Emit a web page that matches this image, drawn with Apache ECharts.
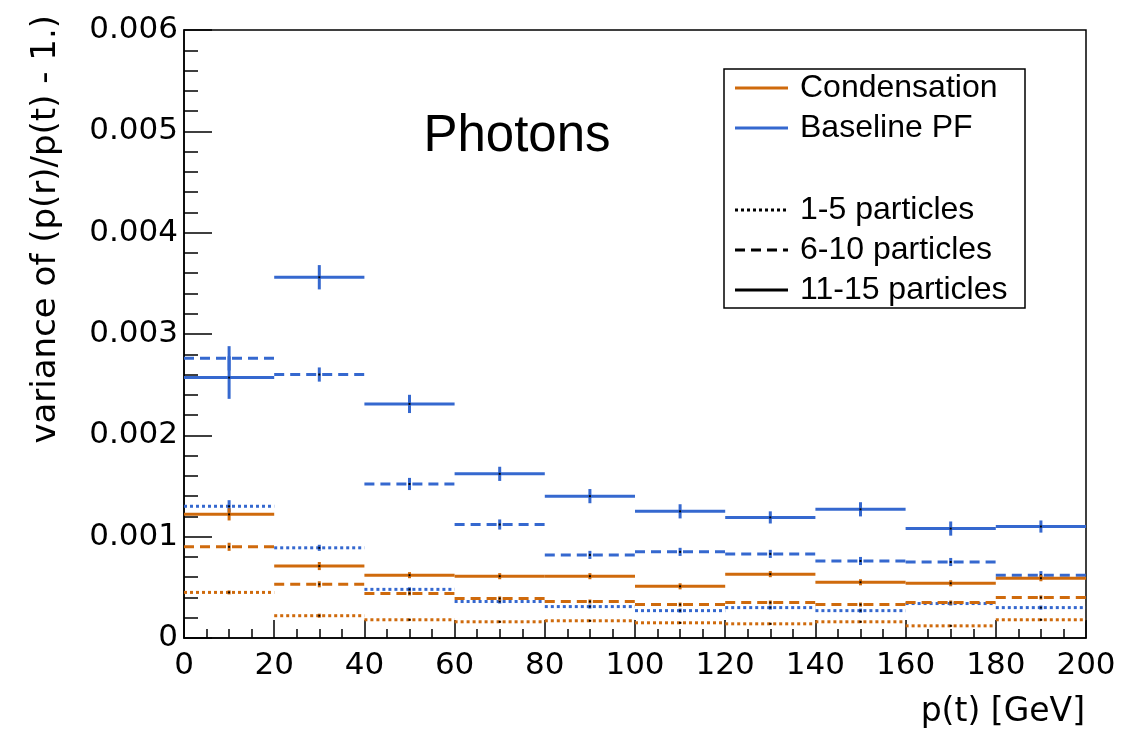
<!DOCTYPE html>
<html>
<head>
<meta charset="utf-8">
<script src="https://cdn.jsdelivr.net/npm/echarts@6/dist/echarts.min.js"></script>
<style>
html,body{margin:0;padding:0;background:#fff;}
#chart{width:1148px;height:738px;}
</style>
</head>
<body>
<div id="chart"></div>
<script>
// ---- data ----
const binEdges = [0, 20, 40, 60, 80, 100, 120, 140, 160, 180, 200];
const xTicks = [0, 20, 40, 60, 80, 100, 120, 140, 160, 180, 200];
const yTicks = [0, 0.001, 0.002, 0.003, 0.004, 0.005, 0.006];

// Condensation
const condP1to5   = [0.00045, 0.00022, 0.00018, 0.00016, 0.00017, 0.00015, 0.00014, 0.00016, 0.00012, 0.00018];
const condP6to10  = [0.00090, 0.00053, 0.00044, 0.00039, 0.00036, 0.00033, 0.00035, 0.00033, 0.00035, 0.00040];
const condP11to15 = [0.00122, 0.00071, 0.00062, 0.00061, 0.00061, 0.00051, 0.00063, 0.00055, 0.00054, 0.00059];
const condP1to5Err   = [0.00002, 0.00002, 0.00001, 0.00001, 0.00001, 0.00001, 0.00001, 0.00001, 0.00001, 0.00001];
const condP6to10Err  = [0.00004, 0.00003, 0.00002, 0.00002, 0.00002, 0.00002, 0.00002, 0.00002, 0.00002, 0.00002];
const condP11to15Err = [0.00006, 0.00004, 0.00003, 0.00003, 0.00003, 0.00003, 0.00003, 0.00003, 0.00003, 0.00003];

// Baseline PF
const pfP1to5   = [0.00130, 0.00089, 0.00048, 0.00036, 0.00031, 0.00027, 0.00030, 0.00027, 0.00034, 0.00030];
const pfP6to10  = [0.00276, 0.00260, 0.00152, 0.00112, 0.00082, 0.00085, 0.00083, 0.00076, 0.00075, 0.00062];
const pfP11to15 = [0.00257, 0.00356, 0.00231, 0.00162, 0.00140, 0.00125, 0.00119, 0.00127, 0.00108, 0.00110];
const pfP1to5Err   = [0.00006, 0.00003, 0.00002, 0.00002, 0.00002, 0.00002, 0.00002, 0.00002, 0.00002, 0.00002];
const pfP6to10Err  = [0.00012, 0.00007, 0.00006, 0.00005, 0.00004, 0.00004, 0.00004, 0.00004, 0.00004, 0.00004];
const pfP11to15Err = [0.00021, 0.00012, 0.00009, 0.00007, 0.00007, 0.00007, 0.00006, 0.00007, 0.00007, 0.00006];

const legendLabels = ['Condensation', 'Baseline PF', '1-5 particles', '6-10 particles', '11-15 particles'];
const titleText = 'Photons';
const xTitle = 'p(t) [GeV]';
const yTitle = 'variance of (p(r)/p(t) - 1.)';

// ---- styling ----
const ORANGE = '#cf6a0c';
const BLUE = '#3568cf';
const DOT = [3, 3];
const DASH = [10, 6];
const AXIS_FONT = 'DejaVu Sans';
const TEXT_FONT = 'Liberation Sans';

function toData(vals, errs) {
  return vals.map((v, i) => [binEdges[i], binEdges[i + 1], v, errs[i]]);
}

function makeSeries(name, vals, errs, color, dash) {
  return {
    type: 'custom',
    name: name,
    data: toData(vals, errs),
    renderItem: function (params, api) {
      const lo = api.value(0), hi = api.value(1), v = api.value(2), e = api.value(3);
      const mid = (lo + hi) / 2;
      const p0 = api.coord([lo, v]);
      const p1 = api.coord([hi, v]);
      const pc = api.coord([mid, v]);
      const pt = api.coord([mid, v + e]);
      const pb = api.coord([mid, v - e]);
      return {
        type: 'group',
        children: [
          { type: 'line', shape: { x1: p0[0], y1: p0[1], x2: p1[0], y2: p1[1] },
            style: { stroke: color, lineWidth: 3, lineDash: dash } },
          { type: 'line', shape: { x1: pt[0], y1: pt[1], x2: pb[0], y2: pb[1] },
            style: { stroke: color, lineWidth: 3 } },
          { type: 'rect', shape: { x: pc[0] - 1, y: pc[1] - 1, width: 2, height: 2 },
            style: { fill: '#000' } }
        ]
      };
    },
    z: 3
  };
}

const series = [
  makeSeries('PF 1-5', pfP1to5, pfP1to5Err, BLUE, DOT),
  makeSeries('PF 6-10', pfP6to10, pfP6to10Err, BLUE, DASH),
  makeSeries('PF 11-15', pfP11to15, pfP11to15Err, BLUE, null),
  makeSeries('Cond 1-5', condP1to5, condP1to5Err, ORANGE, DOT),
  makeSeries('Cond 6-10', condP6to10, condP6to10Err, ORANGE, DASH),
  makeSeries('Cond 11-15', condP11to15, condP11to15Err, ORANGE, null)
];

// legend built as graphics
const legX = 724, legY = 69, legW = 301, legH = 239;
const rowY = [88, 128, 210, 250, 290];
const legStyles = [
  { color: ORANGE, dash: null },
  { color: BLUE, dash: null },
  { color: '#000', dash: DOT },
  { color: '#000', dash: DASH },
  { color: '#000', dash: null }
];
const legendGraphics = [{
  type: 'rect', shape: { x: legX, y: legY, width: legW, height: legH },
  style: { fill: '#fff', stroke: '#000', lineWidth: 1.5 }, z: 10
}];
legendLabels.forEach((lab, i) => {
  legendGraphics.push({
    type: 'line', shape: { x1: 735, y1: rowY[i], x2: 788, y2: rowY[i] },
    style: { stroke: legStyles[i].color, lineWidth: 3, lineDash: legStyles[i].dash }, z: 11
  });
  legendGraphics.push({
    type: 'text', x: 800, y: rowY[i],
    style: { text: lab, font: '32px "' + TEXT_FONT + '"', fill: '#000', textAlign: 'left', textVerticalAlign: 'middle' },
    z: 11
  });
});

const chart = echarts.init(document.getElementById('chart'), null, { renderer: 'canvas' });
chart.setOption({
  backgroundColor: '#fff',
  animation: false,
  grid: {
    left: 184, right: 62, top: 30, bottom: 100,
    show: true, borderColor: '#000', borderWidth: 1.5, backgroundColor: 'transparent'
  },
  xAxis: {
    type: 'value', min: xTicks[0], max: xTicks[xTicks.length - 1], interval: 20,
    axisLine: { show: true, lineStyle: { color: '#000', width: 1.5 } },
    axisTick: { show: true, inside: true, length: 18, lineStyle: { color: '#000', width: 1.5 } },
    minorTick: { show: true, splitNumber: 4, length: 9, lineStyle: { color: '#000', width: 1.5 } },
    splitLine: { show: false },
    axisLabel: { color: '#000', fontFamily: AXIS_FONT, fontSize: 31, margin: 12 }
  },
  yAxis: {
    type: 'value', min: yTicks[0], max: yTicks[yTicks.length - 1], interval: 0.001,
    axisLine: { show: true, lineStyle: { color: '#000', width: 1.5 } },
    axisTick: { show: true, inside: true, length: 28, lineStyle: { color: '#000', width: 1.5 } },
    minorTick: { show: true, splitNumber: 5, length: 14, lineStyle: { color: '#000', width: 1.5 } },
    splitLine: { show: false },
    axisLabel: {
      color: '#000', fontFamily: AXIS_FONT, fontSize: 31, margin: 6,
      formatter: v => (v === 0 ? '0' : v.toFixed(3))
    }
  },
  series: series,
  graphic: [
    {
      type: 'text', x: 517, y: 137,
      style: { text: titleText, font: '51px "' + TEXT_FONT + '"', fill: '#000', textAlign: 'center', textVerticalAlign: 'middle' }
    },
    {
      type: 'text', x: 1085, y: 712,
      style: { text: xTitle, font: '33px "' + AXIS_FONT + '"', fill: '#000', textAlign: 'right', textVerticalAlign: 'middle' }
    },
    {
      type: 'text', x: 46, y: 15, rotation: Math.PI / 2,
      style: { text: yTitle, font: '34px "' + AXIS_FONT + '"', fill: '#000', textAlign: 'right', textVerticalAlign: 'middle' }
    }
  ].concat(legendGraphics)
});
</script>
</body>
</html>
